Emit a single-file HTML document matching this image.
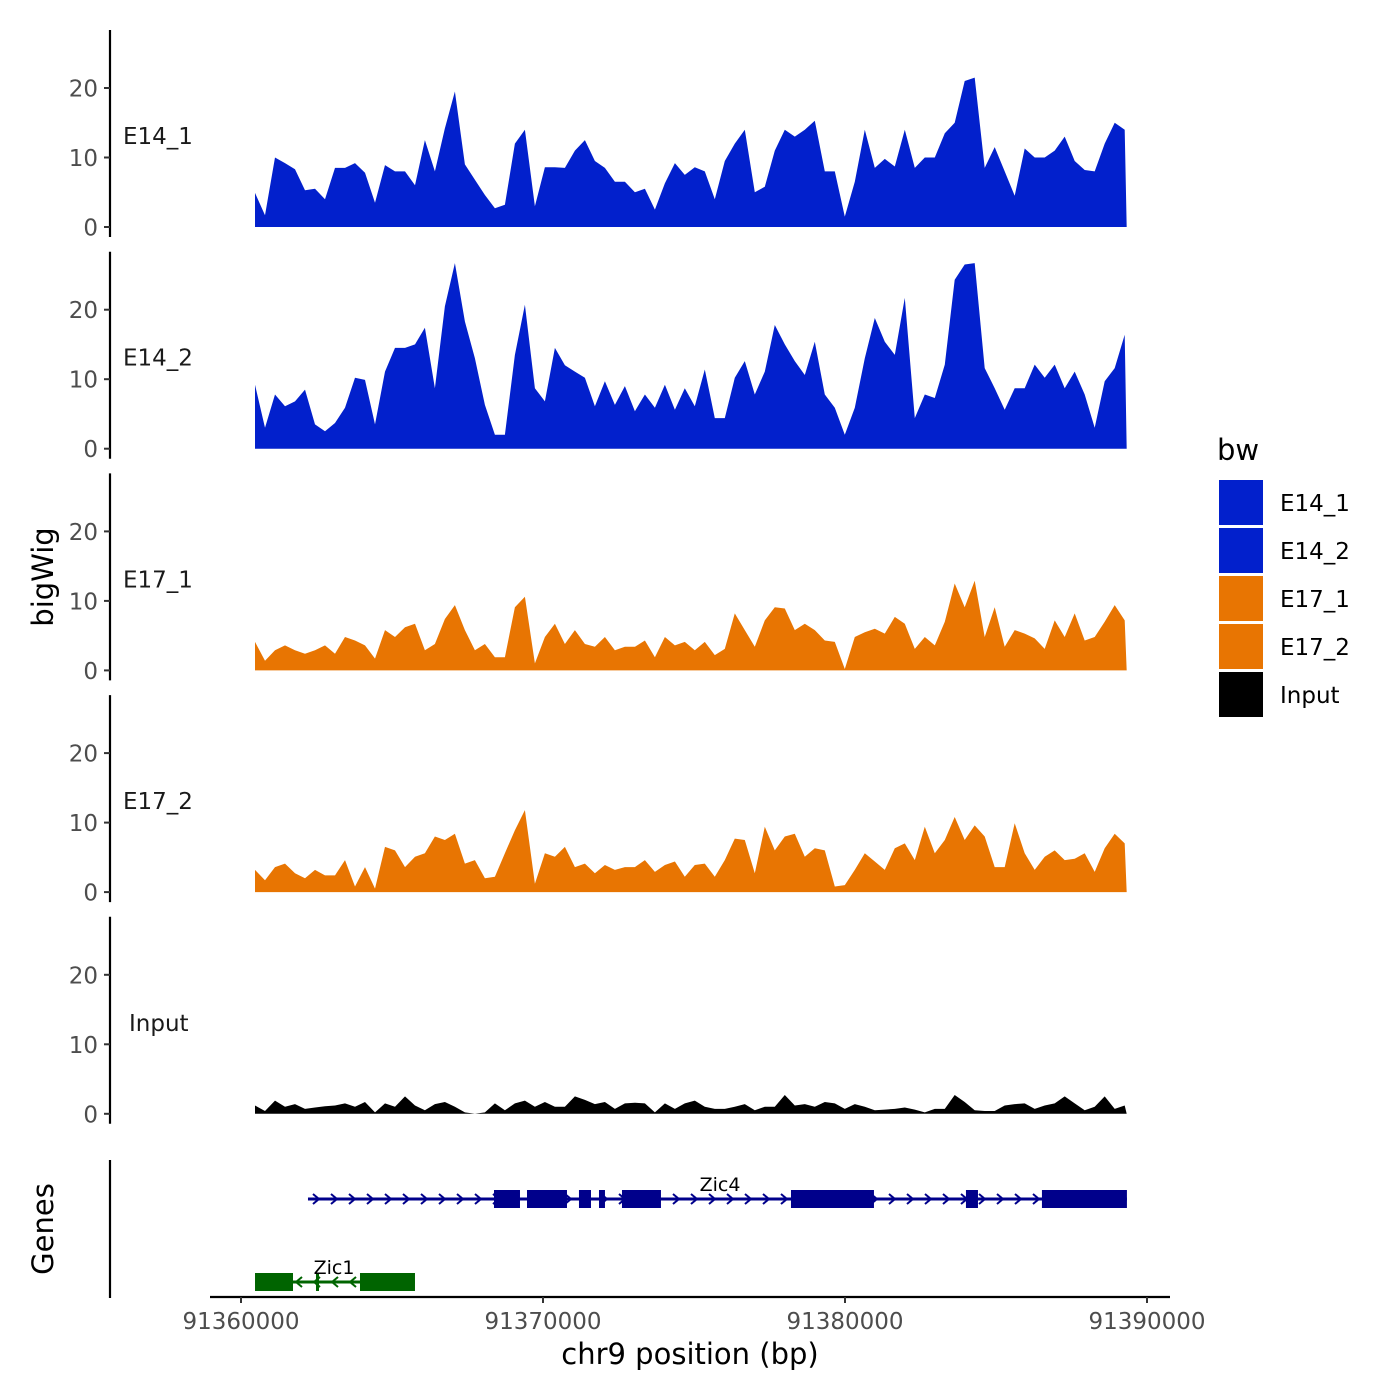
<!DOCTYPE html>
<html><head><meta charset="utf-8"><style>
html,body{margin:0;padding:0;background:#fff;}
svg{display:block;font-family:"DejaVu Sans","Liberation Sans",sans-serif;}
</style></head><body>
<svg id="chart" width="1400" height="1400" viewBox="0 0 1400 1400" xmlns="http://www.w3.org/2000/svg">
<g id="tracks"></g>
<g id="genes"></g>
<g id="axes"></g>
<g id="legend"></g>
</svg>
<script>
const binStart = 91360464;
const binSize = 331;
const trackNames = ["E14_1","E14_2","E17_1","E17_2","Input"];
const trackColors = ["#0220CC","#0220CC","#E87502","#E87502","#000000"];
const e14_1 = [4.9,1.7,10,9.2,8.3,5.3,5.5,4,8.5,8.5,9.2,7.8,3.5,8.9,8,8,6,12.5,8,14.2,19.5,9,6.8,4.6,2.7,3.2,12,14,3,8.6,8.6,8.5,11,12.5,9.5,8.5,6.5,6.5,5,5.5,2.5,6.3,9.2,7.5,8.6,8,4,9.5,12,14,5,5.8,11,14,13,14,15.3,8,8,1.5,6.5,14,8.5,9.8,8.7,14,8.5,10,10,13.5,15,21,21.5,8.5,11.5,8,4.5,11.3,10,10,11,13,9.5,8.2,8,12,15,14];
const e14_2 = [9.2,3,7.8,6.1,6.8,8.5,3.5,2.5,3.7,5.9,10.2,9.9,3.5,11.1,14.5,14.5,15,17.4,8.7,20.5,26.7,18.3,13,6.3,2,2,13.5,20.7,8.7,6.8,14.5,12,11.1,10.2,6.1,9.7,6.3,9,5.4,7.8,5.9,9.2,5.6,8.7,6.1,11.4,4.4,4.4,10.2,12.6,7.8,11.1,17.8,15,12.6,10.6,15.4,7.8,5.9,2,5.9,13,18.8,15.4,13.5,21.7,4.4,7.8,7.3,12.1,24.3,26.5,26.7,11.6,8.7,5.6,8.7,8.7,12.1,10.2,12.1,8.7,11.1,7.8,3,9.7,11.6,16.4];
const e17_1 = [4.1,1.4,2.9,3.6,2.9,2.4,2.9,3.6,2.4,4.8,4.3,3.6,1.7,5.8,4.8,6.2,6.7,2.9,3.8,7.4,9.4,5.8,2.9,3.8,1.9,1.9,9.1,10.6,1,4.8,6.7,3.8,5.8,3.8,3.4,4.8,2.9,3.4,3.4,4.3,1.9,4.8,3.6,4.1,2.9,4.1,2.2,3.1,8.2,5.8,3.4,7.2,9.1,8.9,5.8,6.7,5.8,4.3,4.1,0.2,4.8,5.5,6,5.3,7.7,6.7,3.1,4.8,3.6,7,12.5,9.1,12.9,4.8,9.1,3.4,5.8,5.3,4.6,3.1,7.2,4.8,8.2,4.3,4.8,7,9.4,7.2];
const e17_2 = [3.2,1.7,3.6,4.1,2.7,2,3.2,2.4,2.4,4.6,0.8,3.6,0.5,6.5,6,3.6,5.1,5.6,8,7.5,8.4,4.1,4.6,2,2.2,5.6,8.9,11.8,1.2,5.6,5.1,6.5,3.6,4.1,2.7,3.9,3.2,3.6,3.6,4.6,2.9,3.9,4.4,2.2,3.9,4.1,2.2,4.6,7.7,7.5,2.7,9.4,6,8,8.4,5.1,6.3,6,0.8,1,3.2,5.6,4.4,3.2,6.3,7,4.6,9.4,5.6,7.5,10.8,7.5,9.6,8,3.6,3.6,9.9,5.6,3.2,5.1,6,4.6,4.8,5.6,2.9,6.3,8.4,7];
const input = [1.2,0.4,1.9,1,1.4,0.7,0.9,1.1,1.2,1.5,1,1.7,0.2,1.5,1,2.5,1.2,0.5,1.4,1.7,1,0.2,0,0.2,1.5,0.5,1.5,1.9,1,1.7,1,1,2.5,2,1.4,1.7,0.7,1.5,1.6,1.5,0.2,1.5,0.7,1.5,1.9,1,0.7,0.7,1,1.4,0.5,1,1,2.7,1.2,1.4,1,1.7,1.5,0.7,1.4,1,0.5,0.6,0.7,0.9,0.6,0.2,0.7,0.7,2.7,1.7,0.5,0.4,0.4,1.2,1.4,1.5,0.7,1.2,1.5,2.5,1.5,0.5,1,2.5,0.7,1.2];
const trackValues = [e14_1,e14_2,e17_1,e17_2,input];
const yTicks = [0,10,20];
const xTicks = [91360000,91370000,91380000,91390000];
const zic4Range = [91362218,91389335];
const zic4Exons = [[91368377,91369238],[91369470,91370794],[91371191,91371589],[91371854,91372052],[91372615,91373906],[91378211,91380959],[91384005,91384403],[91386521,91389335]];
const zic1Range = [91360464,91365761];
const zic1Exons = [[91360464,91361722],[91362483,91362583],[91363940,91365761]];

const NS="http://www.w3.org/2000/svg";
function mk(tag, attrs, parent, text){
  const e=document.createElementNS(NS,tag);
  for(const k in attrs) e.setAttribute(k,attrs[k]);
  if(text!==undefined) e.textContent=text;
  parent.appendChild(e); return e;
}
const xScale = bp => 241 + (bp-91360000)*(906/30000);
const panelTop = i => 30 + i*221.7;
const zeroY = i => 227 + i*221.7;
const yScale = (i,v) => zeroY(i) - v*6.95;

const tracks=document.getElementById('tracks');
const axes=document.getElementById('axes');
trackValues.forEach((vals,i)=>{
  const g=mk('g',{},tracks);
  
  
  let pts=[];
  const x0=xScale(binStart);
  pts.push(x0+','+zeroY(i));
  vals.forEach((v,j)=>{pts.push(xScale(binStart+j*binSize).toFixed(1)+','+yScale(i,v).toFixed(1));});
  const xl=xScale(binStart+(vals.length-1)*binSize)+2;
  pts.push(xl+','+zeroY(i));
  const p=mk('polygon',{points:pts.join(' '),fill:trackColors[i]},g);
  
  
  const lab=mk('text',{x:i===4?129:123,y:zeroY(i)-83,'font-size':23,fill:'#1a1a1a'},g,trackNames[i]);
  
  
  const ax=mk('line',{x1:110,x2:110,y1:panelTop(i),y2:panelTop(i)+207,stroke:'#000','stroke-width':2.2},axes);
  
  
  yTicks.forEach(t=>{
    const y=yScale(i,t);
    const tk=mk('line',{x1:104,x2:110,y1:y,y2:y,stroke:'#333','stroke-width':2},axes);
    
    
    const tl=mk('text',{x:98,y:y+8.5,'font-size':23,fill:'#4d4d4d','text-anchor':'end'},axes,String(t));
    
    
  });
});

const genes=document.getElementById('genes');
const gax=mk('line',{x1:110,x2:110,y1:1160,y2:1298,stroke:'#000','stroke-width':2.2},axes);


function drawGene(name,range,exons,y,color,dir,labelX,labelY){
  const g=mk('g',{},genes);
  
  
  const x1=xScale(range[0]), x2=xScale(range[1]);
  mk('line',{x1:x1,x2:x2,y1:y,y2:y,stroke:color,'stroke-width':3},g);
  for(let x=x1+8;x<x2-4;x+=18){
    const d=dir>0?`M${x-3},${y-5} L${x+3},${y} L${x-3},${y+5}`:`M${x+3},${y-5} L${x-3},${y} L${x+3},${y+5}`;
    mk('path',{d:d,stroke:color,'stroke-width':2,fill:'none'},g);
  }
  exons.forEach(e=>{
    const a=xScale(e[0]), b=xScale(e[1]);
    const r=mk('rect',{x:a,y:y-9,width:Math.max(3,b-a),height:18,fill:color},g);
    
    
  });
  const t=mk('text',{x:labelX,y:labelY,'font-size':19,fill:'#000','text-anchor':'middle'},g,name);
  
  
}
drawGene('Zic4',zic4Range,zic4Exons,1199,'#00008B',1,720,1191);
drawGene('Zic1',zic1Range,zic1Exons,1282,'#006400',-1,334,1274);

const xa=mk('line',{x1:210,x2:1170,y1:1297,y2:1297,stroke:'#000','stroke-width':2.2},axes);


xTicks.forEach(t=>{
  const x=xScale(t);
  const tk=mk('line',{x1:x,x2:x,y1:1297,y2:1303,stroke:'#333','stroke-width':2},axes);
  
  
  const tl=mk('text',{x:x,y:1329,'font-size':23,fill:'#4d4d4d','text-anchor':'middle'},axes,String(t));
  
  
});
const xt=mk('text',{x:690,y:1364,'font-size':29,fill:'#000','text-anchor':'middle'},axes,'chr9 position (bp)');


const yt=mk('text',{x:0,y:0,'font-size':29,fill:'#000','text-anchor':'middle',transform:'translate(53,577) rotate(-90)'},axes,'bigWig');


const gt=mk('text',{x:0,y:0,'font-size':29,fill:'#000','text-anchor':'middle',transform:'translate(53,1229) rotate(-90)'},axes,'Genes');



const leg=document.getElementById('legend');
const lt=mk('text',{x:1217,y:460,'font-size':29,fill:'#000'},leg,'bw');


trackNames.forEach((n,i)=>{
  const y=480+i*48;
  const g=mk('g',{},leg);
  
  
  mk('rect',{x:1219,y:y,width:44,height:45,fill:trackColors[i]},g);
  mk('text',{x:1280,y:y+31,'font-size':23,fill:'#000'},g,n);
});
</script>
</body></html>
